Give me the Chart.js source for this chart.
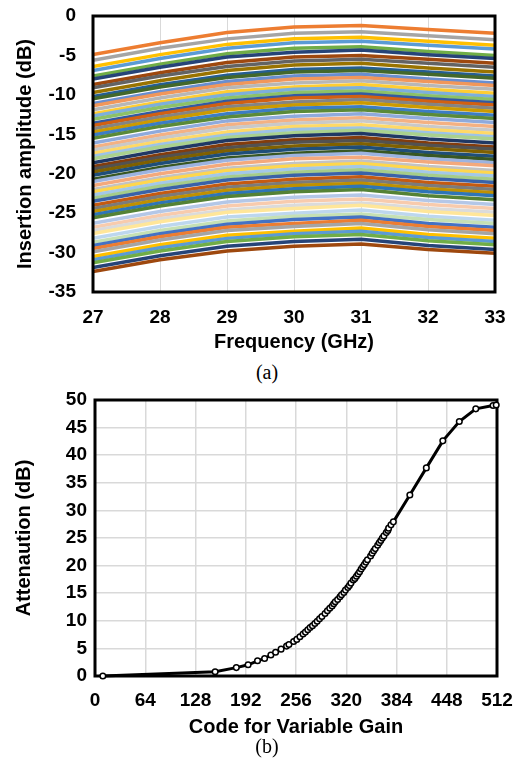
<!DOCTYPE html>
<html>
<head>
<meta charset="utf-8">
<script src="https://cdn.jsdelivr.net/npm/chart.js@4.4.0/dist/chart.umd.min.js"></script>
<style>
  html, body { margin: 0; padding: 0; background: #fff; }
  body { width: 518px; height: 768px; position: relative; overflow: hidden; }
  .box { position: absolute; left: 0; width: 518px; }
  .cap { position: absolute; left: 8px; width: 518px; text-align: center;
         font-family: "Liberation Serif", serif; font-size: 20px; color: #000; }
</style>
</head>
<body>
<div class="box" style="top:0;height:360px"><canvas id="ampChart"></canvas></div>
<div class="cap" style="top:361px">(a)</div>
<div class="box" style="top:380px;height:360px"><canvas id="attChart"></canvas></div>
<div class="cap" style="top:735px">(b)</div>
<script>
// (a) insertion amplitude of each gain state vs frequency
const freqGHz = [27, 28, 29, 30, 31, 32, 33];

const ampStates = [
  [-4.9, -3.4, -2.1, -1.4, -1.2, -1.7, -2.2],
  [-5.6, -4.1, -2.9, -2.2, -2.0, -2.5, -3.0],
  [-6.4, -4.9, -3.6, -2.9, -2.7, -3.2, -3.7],
  [-6.9, -5.4, -4.1, -3.4, -3.2, -3.7, -4.2],
  [-7.6, -6.1, -4.8, -4.1, -3.9, -4.5, -5.0],
  [-8.0, -6.5, -5.2, -4.6, -4.3, -4.9, -5.4],
  [-8.7, -7.2, -5.9, -5.2, -5.0, -5.5, -6.0],
  [-9.1, -7.6, -6.4, -5.7, -5.5, -6.0, -6.5],
  [-9.7, -8.2, -6.9, -6.2, -6.0, -6.6, -7.1],
  [-10.2, -8.7, -7.5, -6.8, -6.6, -7.1, -7.6],
  [-10.5, -9.0, -7.8, -7.1, -6.9, -7.4, -7.9],
  [-11.1, -9.6, -8.3, -7.6, -7.4, -8.0, -8.5],
  [-11.4, -9.9, -8.7, -8.0, -7.8, -8.3, -8.8],
  [-11.9, -10.4, -9.1, -8.5, -8.2, -8.8, -9.3],
  [-12.4, -10.9, -9.6, -9.0, -8.7, -9.3, -9.8],
  [-12.7, -11.2, -10.0, -9.3, -9.1, -9.7, -10.2],
  [-13.1, -11.6, -10.4, -9.7, -9.5, -10.1, -10.6],
  [-13.6, -12.1, -10.8, -10.1, -9.9, -10.5, -11.0],
  [-13.9, -12.4, -11.1, -10.4, -10.2, -10.8, -11.3],
  [-14.3, -12.8, -11.5, -10.9, -10.6, -11.2, -11.7],
  [-14.7, -13.2, -11.9, -11.3, -11.0, -11.6, -12.1],
  [-15.1, -13.6, -12.4, -11.7, -11.5, -12.1, -12.6],
  [-15.5, -14.0, -12.8, -12.1, -11.9, -12.5, -13.0],
  [-16.1, -14.6, -13.3, -12.7, -12.4, -13.0, -13.5],
  [-16.6, -15.1, -13.8, -13.2, -12.9, -13.5, -14.0],
  [-17.0, -15.5, -14.2, -13.6, -13.3, -14.0, -14.5],
  [-17.4, -15.9, -14.7, -14.0, -13.8, -14.4, -14.9],
  [-17.8, -16.3, -15.1, -14.4, -14.2, -14.8, -15.3],
  [-18.1, -16.6, -15.4, -14.8, -14.5, -15.1, -15.6],
  [-18.6, -17.1, -15.8, -15.2, -14.9, -15.6, -16.1],
  [-19.1, -17.6, -16.3, -15.7, -15.4, -16.1, -16.6],
  [-19.4, -17.9, -16.7, -16.0, -15.8, -16.4, -16.9],
  [-19.8, -18.3, -17.1, -16.5, -16.2, -16.8, -17.3],
  [-20.2, -18.7, -17.5, -16.9, -16.6, -17.3, -17.8],
  [-20.7, -19.2, -18.0, -17.4, -17.1, -17.7, -18.2],
  [-21.0, -19.5, -18.3, -17.7, -17.4, -18.1, -18.6],
  [-21.5, -20.0, -18.8, -18.1, -17.9, -18.5, -19.0],
  [-22.0, -20.5, -19.3, -18.7, -18.4, -19.1, -19.6],
  [-22.3, -20.8, -19.6, -19.0, -18.7, -19.4, -19.9],
  [-22.7, -21.2, -20.0, -19.4, -19.1, -19.8, -20.3],
  [-23.1, -21.6, -20.4, -19.8, -19.5, -20.2, -20.7],
  [-23.5, -22.0, -20.8, -20.2, -19.9, -20.6, -21.1],
  [-24.0, -22.5, -21.3, -20.7, -20.4, -21.1, -21.6],
  [-24.4, -22.9, -21.7, -21.1, -20.8, -21.5, -22.0],
  [-24.8, -23.3, -22.1, -21.5, -21.2, -21.9, -22.4],
  [-25.2, -23.7, -22.5, -21.9, -21.6, -22.3, -22.8],
  [-25.6, -24.1, -22.9, -22.3, -22.0, -22.8, -23.3],
  [-26.3, -24.8, -23.6, -23.0, -22.7, -23.4, -23.9],
  [-26.8, -25.3, -24.1, -23.5, -23.2, -23.9, -24.4],
  [-27.2, -25.7, -24.6, -24.0, -23.7, -24.4, -24.9],
  [-27.6, -26.1, -24.9, -24.4, -24.0, -24.8, -25.3],
  [-28.2, -26.7, -25.5, -25.0, -24.6, -25.4, -25.9],
  [-28.7, -27.2, -26.0, -25.4, -25.1, -25.8, -26.3],
  [-29.1, -27.6, -26.4, -25.8, -25.5, -26.3, -26.8],
  [-29.5, -28.0, -26.8, -26.3, -25.9, -26.7, -27.2],
  [-29.9, -28.4, -27.2, -26.7, -26.3, -27.1, -27.6],
  [-30.5, -29.0, -27.8, -27.3, -26.9, -27.7, -28.2],
  [-30.9, -29.4, -28.2, -27.6, -27.3, -28.1, -28.6],
  [-31.3, -29.8, -28.6, -28.0, -27.7, -28.5, -29.0],
  [-31.9, -30.4, -29.2, -28.6, -28.3, -29.1, -29.6],
  [-32.4, -30.9, -29.8, -29.2, -28.9, -29.6, -30.1]
];

// office-style series colours, top line first
const stateColors = [
  '#ED7D31', '#A5A5A5', '#FFC000', '#5B9BD5', '#70AD47',
  '#264478', '#9E480E', '#636363', '#997300', '#255E91', '#43682B',
  '#698ED0', '#F1975A', '#B7B7B7', '#FFCD33', '#7CAFDD', '#8CC168',
  '#335AA1', '#D26012', '#848484', '#CC9A00', '#3C7DC4', '#5A8A39',
  '#8FAADC', '#F4B183', '#C9C9C9', '#FFD966', '#9DC3E6', '#A9D18E',
  '#203864', '#843C0C', '#525252', '#7F6000', '#1F4E79', '#385723',
  '#9DB3E0', '#F4A97C', '#C3C3C3', '#FFD74D', '#A3C8E8', '#A5CC8A',
  '#3A62A8', '#C55A11', '#7B7B7B', '#BF9000', '#2E75B6', '#548235',
  '#B4C7E7', '#F8CBAD', '#DBDBDB', '#FFE699', '#BDD7EE', '#C5E0B4',
  '#4472C4', '#ED7D31', '#A5A5A5', '#FFC000', '#5B9BD5', '#70AD47',
  '#264478', '#9E480E'
];

// (b) attenuation vs code
const gainCode = [
  10, 153, 180, 195, 207, 216, 224, 230, 237, 244, 247, 253, 257, 261, 265, 268,
  271, 274, 277, 280, 283, 286, 289, 293, 296, 299, 302, 304, 306, 309, 312, 314,
  317, 319, 322, 324, 326, 329, 331, 333, 335, 337, 339, 341, 343, 345, 347, 351,
  353, 355, 357, 360, 362, 364, 366, 368, 371, 373, 374, 377, 380,
  401, 422, 443, 464, 485, 507, 511
];
const attenDb = [
  0, 0.76, 1.52, 2.03, 2.75, 3.17, 3.81, 4.31, 4.86, 5.42, 5.71, 6.25, 6.63, 7.10, 7.61, 7.95,
  8.37, 8.79, 9.09, 9.51, 9.93, 10.36, 10.78, 11.33, 11.83, 12.26, 12.68, 13.10, 13.44, 13.86, 14.37, 14.71,
  15.13, 15.56, 16.03, 16.38, 16.83, 17.38, 17.67, 18.08, 18.48, 18.88, 19.38, 19.78, 20.18, 20.63, 21.05, 21.73,
  22.23, 22.68, 23.08, 23.68, 24.13, 24.56, 24.98, 25.38, 25.98, 26.38, 26.78, 27.38, 27.93,
  32.8, 37.7, 42.6, 46.1, 48.4, 49.0, 49.1
];

const tickFont = { family: '"Liberation Sans", Arial, sans-serif', size: 19, weight: 'bold' };
const titleFont = { family: '"Liberation Sans", Arial, sans-serif', size: 20, weight: 'bold' };

function strokeFrame(chart) {
  const { ctx, chartArea: a } = chart;
  ctx.save();
  ctx.strokeStyle = '#000';
  ctx.lineWidth = 3;
  ctx.setLineDash([]);
  ctx.strokeRect(a.left, a.top, a.right - a.left, a.bottom - a.top);
  ctx.restore();
}
// thick black box round the plot area: over the lines in (a), under the markers in (b)
const frameOver = { id: 'frameOver', afterDraw: strokeFrame };
const frameUnder = { id: 'frameUnder', beforeDatasetsDraw: strokeFrame };

// axis sizes are fixed by hand, so drop the extra end padding chart.js adds for labels
function fixX(h) {
  return s => { s.height = h; s.paddingLeft = 0; s.paddingRight = 0; };
}
function fixY(w) {
  return s => { s.width = w; s.paddingTop = 0; s.paddingBottom = 0; };
}

new Chart(document.getElementById('ampChart'), {
  type: 'line',
  data: {
    datasets: ampStates.map((row, i) => ({
      data: row.map((v, j) => ({ x: freqGHz[j], y: v })),
      borderColor: stateColors[i],
      borderWidth: 3.5,
      pointRadius: 0,
      tension: 0,
      fill: false,
      order: -i
    }))
  },
  options: {
    responsive: true,
    maintainAspectRatio: false,
    animation: false,
    layout: { padding: { top: 16, right: 23, bottom: 6, left: 0 } },
    plugins: { legend: { display: false }, tooltip: { enabled: false } },
    scales: {
      x: {
        type: 'linear', min: 27, max: 33,
        ticks: { stepSize: 1, color: '#000', font: tickFont, padding: 14 },
        grid: { color: '#D9D9D9', drawTicks: false },
        border: { display: false },
        title: { display: true, text: 'Frequency (GHz)', color: '#000', font: titleFont, padding: 0 },
        afterFit: fixX(62)
      },
      y: {
        min: -35, max: 0,
        ticks: { stepSize: 5, color: '#000', font: tickFont, padding: 17 },
        grid: { display: false, drawTicks: false },
        border: { display: false },
        title: { display: true, text: 'Insertion amplitude (dB)', color: '#000', font: titleFont, padding: { top: 13 } },
        afterFit: fixY(93)
      }
    }
  },
  plugins: [frameOver]
});

new Chart(document.getElementById('attChart'), {
  type: 'line',
  data: {
    datasets: [{
      data: gainCode.map((c, i) => ({ x: c, y: attenDb[i] })),
      borderColor: '#000',
      borderWidth: 3,
      pointRadius: 2.8,
      pointBorderWidth: 1.5,
      pointBackgroundColor: '#fff',
      pointBorderColor: '#000',
      tension: 0,
      fill: false,
      clip: false
    }]
  },
  options: {
    responsive: true,
    maintainAspectRatio: false,
    animation: false,
    layout: { padding: { top: 20, right: 21, bottom: 1, left: 0 } },
    plugins: { legend: { display: false }, tooltip: { enabled: false } },
    scales: {
      x: {
        type: 'linear', min: 0, max: 512,
        ticks: { stepSize: 64, color: '#000', font: tickFont, padding: 13 },
        grid: { color: '#D9D9D9', lineWidth: 1.5, drawTicks: false },
        border: { display: false },
        title: { display: true, text: 'Code for Variable Gain', color: '#000', font: titleFont, padding: 0 },
        afterFit: fixX(63)
      },
      y: {
        min: 0, max: 50,
        ticks: { stepSize: 5, color: '#000', font: tickFont, padding: 8 },
        grid: { color: '#D9D9D9', lineWidth: 1.5, drawTicks: false },
        border: { display: false },
        title: { display: true, text: 'Attenaution (dB)', color: '#000', font: titleFont, padding: { top: 12 } },
        afterFit: fixY(95)
      }
    }
  },
  plugins: [frameUnder]
});
</script>
</body>
</html>
